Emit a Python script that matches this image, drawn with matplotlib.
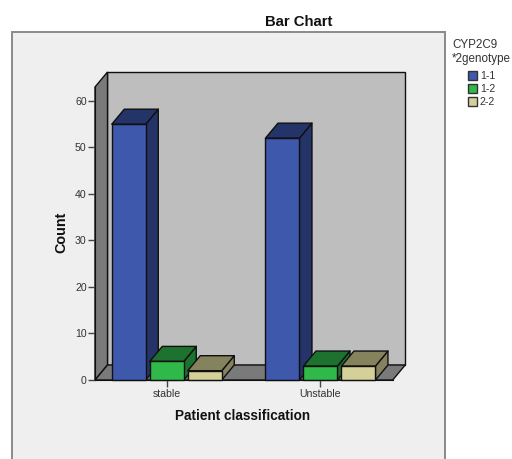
import matplotlib
matplotlib.use("Agg")
import matplotlib.pyplot as plt
from matplotlib.patches import Polygon, Rectangle

plt.rcParams["font.family"] = ["Liberation Sans", "DejaVu Sans"]

categories = ["stable", "Unstable"]
genotypes = ["1-1", "1-2", "2-2"]
stable_counts = [55, 4, 2]
unstable_counts = [52, 3, 3]
y_ticks = [0, 10, 20, 30, 40, 50, 60]

front_colors = ["#3e58ac", "#30b84a", "#d5d09a"]
dark_colors = ["#253468", "#1d722f", "#85835e"]

W, H = 512, 459
# depth of the fake 3d box, in data units
DX = 12.5 / 153.7
DY = 15 / 4.65
BAR_W = 34 / 153.7
BAR_STEP = 38 / 153.7


def px_box(left, top, right, bottom):
    return [left / W, 1 - bottom / H, (right - left) / W, (bottom - top) / H]


def draw_bar(ax, x0, value, front, dark):
    x1 = x0 + BAR_W
    kw = dict(edgecolor="#101010", linewidth=1, clip_on=False, joinstyle="round")
    ax.add_patch(Polygon([(x1, 0), (x1 + DX, DY), (x1 + DX, value + DY), (x1, value)], facecolor=dark, **kw))
    ax.add_patch(Polygon([(x0, value), (x0 + DX, value + DY), (x1 + DX, value + DY), (x1, value)], facecolor=dark, **kw))
    ax.add_patch(Rectangle((x0, 0), BAR_W, value, facecolor=front, **kw))


fig = plt.figure(figsize=(W / 100, H / 100), dpi=100, facecolor="white")

# grey panel runs off the bottom of the image
fig.add_artist(Rectangle((12 / W, -0.02), (444.5 - 12) / W, 1.02 - 32 / H, transform=fig.transFigure,
                         facecolor="#efefef", edgecolor="#8a8a8a", linewidth=1.4, zorder=-1))

ax = fig.add_axes(px_box(95, 87, 392.7, 380))
ax.patch.set_visible(False)
ax.set_xlim(-0.467, 1.47)
ax.set_ylim(0, 63)

xl, xr = ax.get_xlim()
yt = ax.get_ylim()[1]
wall = dict(edgecolor="#101010", linewidth=1, clip_on=False)
ax.add_patch(Polygon([(xl + DX, DY), (xr + DX, DY), (xr + DX, yt + DY), (xl + DX, yt + DY)], facecolor="#bebebe", **wall))
ax.add_patch(Polygon([(xl, 0), (xl + DX, DY), (xl + DX, yt + DY), (xl, yt)], facecolor="#7a7a7a", **wall))
ax.add_patch(Polygon([(xl, 0), (xr, 0), (xr + DX, DY), (xl + DX, DY)], facecolor="#7a7a7a", **wall))

for i, counts in enumerate([stable_counts, unstable_counts]):
    for j, value in enumerate(counts):
        x0 = i + (j - 1) * BAR_STEP - BAR_W / 2
        draw_bar(ax, x0, value, front_colors[j], dark_colors[j])

for side in ["top", "right"]:
    ax.spines[side].set_visible(False)
ax.spines["left"].set_color("#101010")
ax.spines["bottom"].set_color("#101010")
ax.spines["bottom"].set_zorder(5)

ax.set_xticks([0, 1])
ax.set_xticklabels(categories)
ax.set_yticks(y_ticks)
ax.tick_params(axis="both", length=5, width=1, color="#444444", labelcolor="#333333", labelsize=7.6, pad=1)
ax.tick_params(axis="x", pad=1.5)

fig.text(243 / W, 1 - 415.5 / H, "Patient classification", ha="center", va="center", fontsize=9.8, fontweight="bold", color="#111111")
fig.text(61.5 / W, 1 - 232 / H, "Count", ha="center", va="center", rotation=90, fontsize=10.4, fontweight="bold", color="#111111")
fig.text(299 / W, 1 - 21.5 / H, "Bar Chart", ha="center", va="center", fontsize=10.7, fontweight="bold", color="#111111")

handles = [Rectangle((0, 0), 1, 1, facecolor=c, edgecolor="#333333", linewidth=1) for c in front_colors]
leg = fig.legend(handles, genotypes, title="CYP2C9\n*2genotype", loc="upper left",
                 bbox_to_anchor=(450 / W, 1 - 37 / H), frameon=False, fontsize=7.6, title_fontsize=8.4,
                 handlelength=0.85, handleheight=0.85, handletextpad=0.25, labelspacing=0.28,
                 borderpad=0.2, borderaxespad=0, labelcolor="#333333")
leg.get_title().set_color("#333333")
# push the rows down a bit from the legend title
leg._legend_box.sep = 4.6

fig.savefig("out.png", dpi=100)
